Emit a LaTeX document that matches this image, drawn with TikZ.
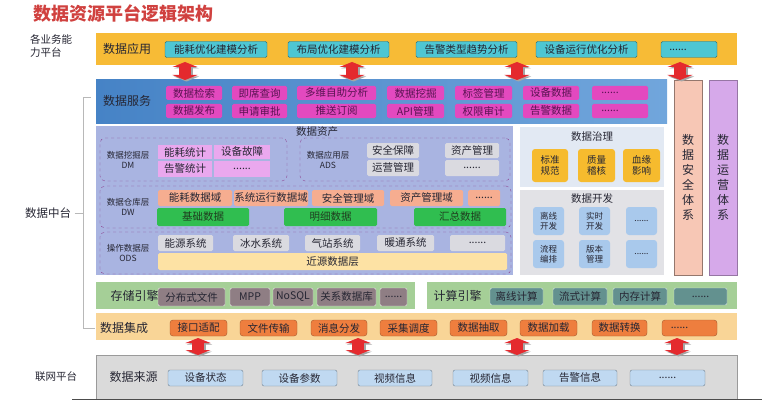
\documentclass[tikz,border=0pt]{standalone}
\usepackage{fontspec}
\newfontfamily\cjk{Noto Sans CJK SC}
\usepackage{tikz}
\usetikzlibrary{arrows.meta, positioning, calc}
\definecolor{cred}{HTML}{E42A2E}
\definecolor{ctitle}{HTML}{D0413F}
\definecolor{ctext}{HTML}{262633}
\definecolor{cgray}{HTML}{9A9A9A}
\definecolor{cyellow}{HTML}{F7BB36}
\definecolor{cteal}{HTML}{4EC6D3}
\definecolor{cblueA}{HTML}{4683C6}
\definecolor{cblueB}{HTML}{71A6DC}
\definecolor{cmagenta}{HTML}{E349BF}
\definecolor{cplum}{HTML}{5A1352}
\definecolor{casset}{HTML}{A9B4E1}
\definecolor{cdash}{HTML}{8E4A96}
\definecolor{cpink}{HTML}{EAA8EE}
\definecolor{clightgray}{HTML}{DADAE0}
\definecolor{csalmon}{HTML}{F6AD90}
\definecolor{cgreen}{HTML}{30BE50}
\definecolor{cdkgreen}{HTML}{1F3D1F}
\definecolor{ccream}{HTML}{FDE2A4}
\definecolor{cgov}{HTML}{E2E9F3}
\definecolor{cdev}{HTML}{E2E2E6}
\definecolor{cgold}{HTML}{F6BB2E}
\definecolor{cskyblue}{HTML}{A9C9EC}
\definecolor{cmoss}{HTML}{A5CF97}
\definecolor{cmauve}{HTML}{8F7E84}
\definecolor{cslate}{HTML}{63918F}
\definecolor{cpeach}{HTML}{F9D597}
\definecolor{corange}{HTML}{EE7E3E}
\definecolor{csource}{HTML}{DADADA}
\definecolor{cpale}{HTML}{C0D9F1}
\definecolor{csecure}{HTML}{F7C7B5}
\definecolor{clilac}{HTML}{D6A9EA}
\newcommand\moredots{......}

\begin{document}
\begin{tikzpicture}[x=1pt, y=-1pt,
  band/.style={anchor=north west, inner sep=0pt, outer sep=0pt},
  bandlbl/.style={font=\cjk\fontsize{12}{14}\selectfont, text=ctext},
  box/.style={inner sep=0pt, rounded corners=1.5pt, minimum height=16, font=\cjk\fontsize{10.5}{12}\selectfont, text=ctext},
  appbox/.style={box, fill=cteal, draw=cteal!55!black},
  svcbox/.style={box, fill=cmagenta, text=cplum, minimum height=14},
  layer/.style={band, draw=cdash, dashed, rounded corners=5pt},
  laylbl/.style={align=center, font=\cjk\fontsize{8.5}{10}\selectfont, text=ctext},
  dmbox/.style={box, fill=cpink, rounded corners=0pt},
  adsbox/.style={box, fill=clightgray},
  dombox/.style={box, fill=csalmon},
  dwbox/.style={box, fill=cgreen, text=cdkgreen, minimum height=18},
  odsbox/.style={box, fill=clightgray},
  panellbl/.style={font=\cjk\fontsize{10.5}{12}\selectfont, text=ctext},
  govbox/.style={box, fill=cgold, align=center, rounded corners=3pt, minimum height=33, font=\cjk\fontsize{9.5}{11}\selectfont},
  devbox/.style={box, fill=cskyblue, align=center, rounded corners=3pt, minimum height=28, font=\cjk\fontsize{8.5}{10}\selectfont},
  stobox/.style={box, fill=cmauve, draw=white!80!cmauve, minimum height=18},
  cmpbox/.style={box, fill=cslate, draw=white!75!cslate, minimum height=17},
  intbox/.style={box, fill=corange, draw=corange!70!black, rounded corners=3pt},
  srcbox/.style={box, fill=cpale, draw=cpale!60!black, rounded corners=2pt},
  colbox/.style={band, draw, align=center, font=\cjk\fontsize{12}{15}\selectfont, text=ctext},
  fatarrow/.style={line width=12pt, cred, arrows={Triangle[width=25pt,length=5pt]-Triangle[width=25pt,length=5pt]}},
  fatshadow/.style={fatarrow, gray!70, transform canvas={shift={(1.5,1.5)}}},
  side/.style={font=\cjk\fontsize{10.5}{13}\selectfont, text=ctext, align=left}
]
  \useasboundingbox (0,0) rectangle (762,401);

  % title and platform labels
  \node[font=\cjk\bfseries\fontsize{18}{20}\selectfont, text=ctitle] (title) at (123,14) {数据资源平台逻辑架构};
  \node[side] (bizlbl) at (51,46) {各业务能\\力平台};
  \node[side, font=\cjk\fontsize{11.5}{13}\selectfont] (midlbl) at (48,213) {数据中台};
  \node[side] (netlbl) at (56,377) {联网平台};
  \draw[cgray!70] (91,97) -- (83,97) -- (83,328) -- (95,328);
  \draw[cgray!70] (midlbl.east) -- (83,213);

  % data application
  \node[band, fill=cyellow, minimum width=641, minimum height=32] (appband) at (96,33) {};
  \node[bandlbl] (applbl) at (127,49) {数据应用};
  \foreach \xa/\xb/\txt [count=\i] in {165/267/能耗优化建模分析, 288/389/布局优化建模分析, 416/517/告警类型趋势分析, 536/637/设备运行优化分析, 661/717/\moredots\hspace*{22pt}}
    \node[appbox, minimum width=\xb-\xa] (app\i) at ({(\xa+\xb)/2},49.5) {\txt};

  % data services
  \node[band, left color=cblueA, right color=cblueB, minimum width=571, minimum height=43] (svcband) at (96,80) {};
  \node[bandlbl] (svclbl) at (127,101) {数据服务};
  \foreach \xa/\xb/\ta/\tb [count=\i] in {166/222/数据检索/数据发布, 232/287/即席查询/申请审批, 297/376/多维自助分析/推送订阅, 387/444/数据挖掘/API管理, 455/512/标签管理/权限审计, 523/579/设备数据/告警数据, 592/648/\moredots\hspace*{20pt}/\moredots\hspace*{20pt}}{
    \node[svcbox, minimum width=\xb-\xa] (svca\i) at ({(\xa+\xb)/2},93) {\ta};
    \node[svcbox, minimum width=\xb-\xa] (svcb\i) at ({(\xa+\xb)/2},111) {\tb};
  }

  % security and operation columns
  \node[colbox, fill=csecure, draw=csecure!60!black, minimum width=28, minimum height=195] (secbox) at (674,80) {数\\据\\安\\全\\体\\系};
  \node[colbox, fill=clilac, draw=clilac!70!black, minimum width=28, minimum height=195] (opsbox) at (709,80) {数\\据\\运\\营\\体\\系};

  % data assets
  \node[band, fill=casset, minimum width=417, minimum height=149] (assetband) at (96,126) {};
  \node[panellbl] (assetlbl) at (317,132) {数据资产};
  \node[layer, minimum width=187, minimum height=43] (dm) at (100,138) {};
  \node[layer, minimum width=210, minimum height=43] (ads) at (300,138) {};
  \node[layer, minimum width=411, minimum height=42] (dw) at (100,186) {};
  \node[layer, minimum width=411, minimum height=42] (ods) at (100,232) {};
  \node[laylbl] (dmlbl) at (128,160) {数据挖掘层\\DM};
  \node[laylbl] (adslbl) at (328,160) {数据应用层\\ADS};
  \node[laylbl] (dwlbl) at (128,207) {数据仓库层\\DW};
  \node[laylbl] (odslbl) at (128,253) {操作数据层\\ODS};
  \foreach \xa/\xb/\ta/\tb [count=\i] in {158/212/能耗统计/告警统计, 214/270/设备故障/\moredots}{
    \node[dmbox, minimum width=\xb-\xa, minimum height=14] (dma\i) at ({(\xa+\xb)/2},152) {\ta};
    \node[dmbox, minimum width=\xb-\xa] (dmb\i) at ({(\xa+\xb)/2},169) {\tb};
  }
  \foreach \xa/\xb/\ta/\tb [count=\i] in {367/419/安全保障/运营管理, 445/499/资产管理/\moredots}{
    \node[adsbox, minimum width=\xb-\xa, minimum height=15] (adsa\i) at ({(\xa+\xb)/2},150.5) {\ta};
    \node[adsbox, minimum width=\xb-\xa] (adsb\i) at ({(\xa+\xb)/2},168) {\tb};
  }
  \foreach \xa/\xb/\txt [count=\i] in {158/232/能耗数据域, 234/308/系统运行数据域, 312/384/安全管理域, 390/463/资产管理域, 468/500/\moredots}
    \node[dombox, minimum width=\xb-\xa] (dom\i) at ({(\xa+\xb)/2},198) {\txt};
  \foreach \xa/\xb/\txt [count=\i] in {157/249/基础数据, 284/377/明细数据, 414/506/汇总数据}
    \node[dwbox, minimum width=\xb-\xa] (dwd\i) at ({(\xa+\xb)/2},217) {\txt};
  \foreach \xa/\xb/\txt [count=\i] in {158/213/能源系统, 233/289/冰水系统, 305/360/气站系统, 377/434/暖通系统, 450/505/\moredots}
    \node[odsbox, minimum width=\xb-\xa] (sys\i) at ({(\xa+\xb)/2},243) {\txt};
  \node[box, fill=ccream, minimum width=349, minimum height=17] (nearsrc) at (332.5,261.5) {近源数据层};

  % governance and development
  \node[band, fill=cgov, minimum width=144, minimum height=60] (govpanel) at (520,127) {};
  \node[panellbl] (govlbl) at (592,137) {数据治理};
  \foreach \xa/\xb/\txt [count=\i] in {532/568/标准\\规范, 578/615/质量\\稽核, 623/660/血缘\\影响}
    \node[govbox, minimum width=\xb-\xa] (gov\i) at ({(\xa+\xb)/2},165.5) {\txt};
  \node[band, fill=cdev, minimum width=144, minimum height=85] (devpanel) at (520,190) {};
  \node[panellbl] (devlbl) at (592,199) {数据开发};
  \foreach \xa/\xb/\ta/\tb [count=\i] in {533/564/离线\\开发/流程\\编排, 579/610/实时\\开发/版本\\管理, 626/657/\moredots/\moredots}{
    \node[devbox, minimum width=\xb-\xa] (deva\i) at ({(\xa+\xb)/2},221) {\ta};
    \node[devbox, minimum width=\xb-\xa] (devb\i) at ({(\xa+\xb)/2},254) {\tb};
  }

  % storage and compute engines
  \node[band, fill=cmoss, minimum width=319, minimum height=27] (stoband) at (96,282) {};
  \node[bandlbl] (stolbl) at (134.5,296) {存储引擎};
  \foreach \xa/\xb/\txt [count=\i] in {158/225/分布式文件, 230/270/MPP, 273/313/NoSQL, 317/376/关系数据库, 380/407/\moredots}
    \node[stobox, minimum width=\xb-\xa] (sto\i) at ({(\xa+\xb)/2},297) {\txt};
  \node[band, fill=cmoss, minimum width=310, minimum height=27] (cmpband) at (427,282) {};
  \node[bandlbl] (cmplbl) at (457.5,296) {计算引擎};
  \foreach \xa/\xb/\txt [count=\i] in {490/543/离线计算, 553/607/流式计算, 613/667/内存计算, 674/727/\moredots}
    \node[cmpbox, minimum width=\xb-\xa] (cmp\i) at ({(\xa+\xb)/2},296.5) {\txt};

  % data integration
  \node[band, fill=cpeach, minimum width=641, minimum height=27] (intband) at (96,313) {};
  \node[bandlbl] (intlbl) at (124,327.5) {数据集成};
  \foreach \xa/\xb/\txt [count=\i] in {170/227/接口适配, 240/297/文件传输, 311/367/消息分发, 380/437/采集调度, 450/507/数据抽取, 520/577/数据加载, 592/647/数据转换, 662/717/\moredots\hspace*{20pt}}
    \node[intbox, minimum width=\xb-\xa] (int\i) at ({(\xa+\xb)/2},328) {\txt};

  % data sources
  \node[band, fill=csource, draw=cgray, minimum width=641, minimum height=44] (srcband) at (96,355) {};
  \node[bandlbl] (srclbl) at (133.5,377) {数据来源};
  \foreach \xa/\xb/\txt [count=\i] in {168/243/设备状态, 262/337/设备参数, 358/432/视频信息, 453/528/视频信息, 543/617/告警信息, 630/705/\moredots}
    \node[srcbox, minimum width=\xb-\xa] (src\i) at ({(\xa+\xb)/2},378) {\txt};
  \draw[gray!60!black, line width=1pt] (72,399.5) -- (762,399.5);

  % double arrows between layers (tops start just inside the upper band)
  \foreach \ax [count=\i] in {185,352,517}{
    \coordinate (up\i) at (\ax,62);
    \draw[fatshadow] (up\i) -- (svcband.north -| up\i);
    \draw[fatarrow] (up\i) -- (svcband.north -| up\i);
  }
  \coordinate (up4) at (680,62);
  \draw[fatshadow] (up4) -- (secbox.north -| up4);
  \draw[fatarrow] (up4) -- (secbox.north -| up4);
  \foreach \ax [count=\i] in {198,358,517,677}{
    \coordinate (dn\i) at (\ax,338);
    \draw[fatshadow] (dn\i) -- (srcband.north -| dn\i);
    \draw[fatarrow] (dn\i) -- (srcband.north -| dn\i);
  }
\end{tikzpicture}
\end{document}
